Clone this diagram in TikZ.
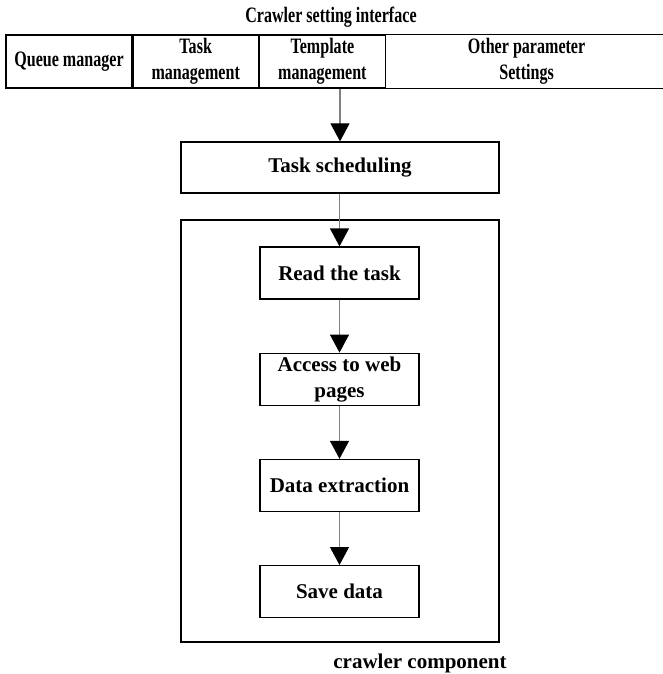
\documentclass[tikz,border=0pt]{standalone}
\usepackage{fontspec}
\setmainfont{Liberation Serif}
\newfontfamily\narrowserif[FakeStretch=0.73]{Liberation Serif}
\usetikzlibrary{arrows.meta,positioning}
\tikzset{
  basic/.style  = {rectangle, inner sep=0pt, font=\fontsize{10.5}{13}\selectfont\bfseries,
                   align=center, line width=0.6pt},
  narrow/.style = {basic, font=\narrowserif\fontsize{11}{13}\selectfont\bfseries},
  cell/.style   = {narrow, draw, minimum height=26.5pt},
  stage/.style  = {basic, draw, minimum width=79.5pt, minimum height=26pt},
  wide/.style   = {basic, draw, minimum width=159pt, minimum height=25.5pt},
  link/.style   = {-{Triangle[width=9.5pt,length=9pt,color=black]}, draw=black!50,
                   line width=0.6pt}
}

\begin{document}
\begin{tikzpicture}[x=0.5pt, y=-0.5pt]
	\useasboundingbox (0,0) rectangle (663,674);
	
	% the settings bar on top
	\node[narrow] (title) at (331,17) {Crawler setting interface};
	\node[cell, minimum width=63pt] (c1) at (69,61.5) {Queue manager};
	\node[cell, minimum width=62.5pt, right=0pt of c1] (c2) {Task\\ management};
	\node[cell, minimum width=63pt, right=0pt of c2] (c3) {Template\\ management};
	\node[narrow, minimum width=140pt, minimum height=26.5pt, right=0pt of c3] (c4)
	{Other parameter\\ Settings};
	\draw[line width=0.6pt] (c4.north west) -- (c4.north east)
	  (c4.south west) -- (c4.south east);
	
	% scheduling and the crawler component
	\node[wide] (sched) at (340,167.5) {Task scheduling};
	\node[basic, draw, minimum width=159pt, minimum height=211pt] (frame) at (340,431) {};
	\node[basic, anchor=north] (comp) at (420,653) {crawler component};
	
	% the stages, relatively positioned
	\node[stage] (read) at (339.5,273) {Read the task};
	\node[stage, below=26.5pt of read] (access) {Access to web\\ pages};
	\node[stage, below=26.5pt of access] (extract) {Data extraction};
	\node[stage, below=26.5pt of extract] (save) {Save data};
	
	% arrows
	\draw[link] (sched.north |- c3.south) -- (sched.north);
	\draw[link] (sched.south -| read.north) -- (read.north);
	\foreach \a/\b in {read/access, access/extract, extract/save}
	  \draw[link] (\a.south) -- (\b.north);
	
\end{tikzpicture}
\end{document}
